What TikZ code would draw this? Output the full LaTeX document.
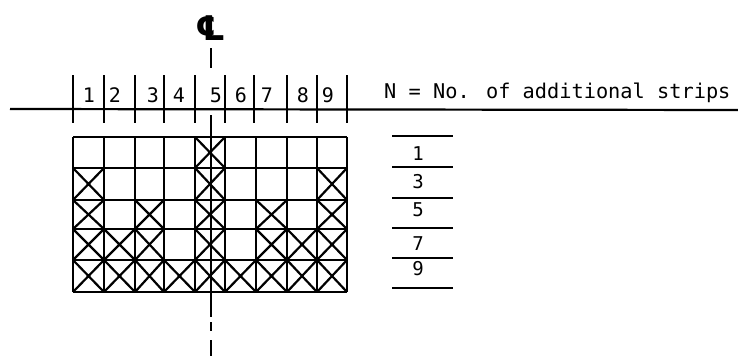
\documentclass[tikz,border=0pt]{standalone}
\usepackage{fontspec}
\newfontfamily\monofont{DejaVu Sans Mono}
\newfontfamily\symfont{DejaVu Sans}
\begin{document}
\begin{tikzpicture}[x=1pt,y=-1pt,
  ln/.style={line width=2.2pt},
  tk/.style={line width=2.6pt},
  grd/.style={line width=2.2pt},
  num/.style={font=\monofont\fontsize{20}{20}\selectfont, inner sep=0pt},
  rnum/.style={font=\monofont\fontsize{19}{19}\selectfont, inner sep=0pt}]
\useasboundingbox (0,0) rectangle (738,356);
% center line symbol
\node[inner sep=0pt, font=\symfont\fontsize{34}{34}\selectfont\bfseries\itshape] (cl) at (211,28) {℄};
\draw[ln] (211,48) -- (211,68);
% reference axis
\coordinate (axL) at (10,109);
\coordinate (axR) at (738,110);
\draw[ln] (axL) -- (axR);
\foreach \x in {73,104,135,164,195,225,254,287,317,347}
  \draw[tk] (\x,75) -- (\x,123);
\foreach \n/\x in {1/89,2/115,3/153,4/179,5/216,6/241,7/267,8/303,9/328}
  \node[num] (t\n) at (\x,95) {\n};
\node[anchor=base west, inner sep=0pt, font=\monofont\fontsize{20.3}{20.3}\selectfont] (title) at (384,98) {N = No. of additional strips};
% grid
\def\xs{{73,104,135,164,195,225,256,287,317,347}}
\def\ys{{137,168,200,229,260,292}}
\foreach \x in {73,104,135,164,195,225,256,287,317,347}
  \draw[grd] (\x,137) -- (\x,292);
\foreach \y in {137,168,200,229,260,292}
  \draw[grd] (73,\y) -- (347,\y);
% crosses: row/col
\foreach \r/\c in {0/4, 1/0,1/4,1/8, 2/0,2/2,2/4,2/6,2/8,
  3/0,3/1,3/2,3/4,3/6,3/7,3/8,
  4/0,4/1,4/2,4/3,4/4,4/5,4/6,4/7,4/8}{
  \pgfmathsetmacro\xa{\xs[\c]}
  \pgfmathsetmacro\xb{\xs[\c+1]}
  \pgfmathsetmacro\ya{\ys[\r]}
  \pgfmathsetmacro\yb{\ys[\r+1]}
  \draw[grd] (\xa,\ya) -- (\xb,\yb) (\xa,\yb) -- (\xb,\ya);
}
% center line
\draw[ln] (211,115) -- (211,317);
\draw[ln] (211,322) -- (211,331);
\draw[ln] (211,340) -- (211,356);
% right scale
\foreach \y in {136,167,198,228,258,288}
  \draw[ln] (392,\y) -- (453,\y);
\foreach \n/\y in {1/154,3/182,5/210,7/244,9/269}
  \node[rnum] (r\n) at (418,\y) {\n};
\end{tikzpicture}
\end{document}
